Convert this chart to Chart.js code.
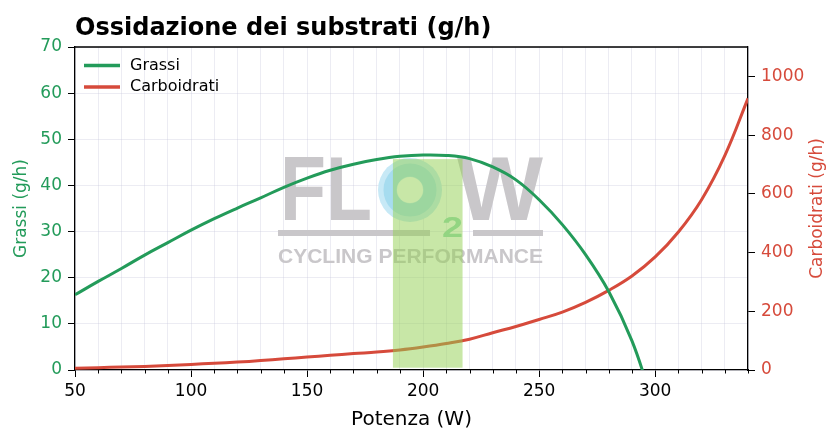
<!DOCTYPE html>
<html>
<head>
<meta charset="utf-8">
<script src="https://cdn.jsdelivr.net/npm/chart.js@4.4.1/dist/chart.umd.min.js"></script>
<style>
  html, body { margin: 0; padding: 0; background: #fff; }
  #wrap { width: 836px; height: 440px; }
</style>
</head>
<body>
<div id="wrap"><canvas id="fuelChart" width="836" height="440"></canvas></div>
<script>
// data
const potenzaGrassi = [50, 60, 70, 80, 90, 100, 110, 120, 130, 140, 150, 160, 170, 180, 190, 200, 210, 220, 230, 240, 250, 260, 270, 280, 290, 298];
const grassi = [16.3, 19.2, 22.0, 24.9, 27.6, 30.3, 32.8, 35.1, 37.3, 39.6, 41.6, 43.3, 44.6, 45.6, 46.3, 46.6, 46.5, 45.8, 44.0, 41.2, 36.9, 31.5, 25.0, 17.0, 6.3, -5.5];

const potenzaCarbo = [50, 60, 70, 80, 90, 100, 110, 120, 130, 140, 150, 160, 170, 180, 190, 200, 210, 220, 230, 240, 250, 260, 270, 280, 290, 300, 310, 320, 330, 340];
const carboidrati = [6, 8, 10, 12, 15, 19, 23, 27, 32, 38, 44, 50, 56, 61, 68, 78, 90, 105, 127, 148, 172, 197, 230, 271, 320, 385, 470, 580, 730, 925];

const fatMaxZone = [187, 217];      // shaded band (W)
const fatMaxZoneY = [0.5, 45.7];    // band height on left axis

const GREEN = '#239b5a';
const RED = '#d64a3b';
const FONT = "'DejaVu Sans', sans-serif";

const ctx = document.getElementById('fuelChart').getContext('2d');

// small ticks for minor steps (chart.js draws only one tick length)
function drawMinorTicks(chart) {
  const c = chart.ctx;
  const x = chart.scales.x, yl = chart.scales.yGrassi;
  c.save();
  c.strokeStyle = '#000';
  c.lineWidth = 1;
  x.ticks.forEach(t => {
    if (t.value % 50 === 0) return;
    const px = Math.round(x.getPixelForValue(t.value)) + 0.5;
    c.beginPath(); c.moveTo(px, x.top); c.lineTo(px, x.top + 3.5); c.stroke();
  });
  yl.ticks.forEach(t => {
    if (t.value % 10 === 0) return;
    const py = Math.round(yl.getPixelForValue(t.value)) + 0.5;
    c.beginPath(); c.moveTo(yl.right, py); c.lineTo(yl.right - 3.5, py); c.stroke();
  });
  c.restore();
}

function fitText(c, text, x, y, w, size, weight) {
  c.font = weight + ' ' + size + "px 'Liberation Sans', sans-serif";
  const m = c.measureText(text).width;
  c.save();
  c.translate(x, y);
  c.scale(w / m, 1);
  c.fillText(text, 0, 0);
  c.restore();
}

const watermark = {
  id: 'watermark',
  beforeDatasetsDraw(chart) {
    const c = chart.ctx;
    c.save();
    c.fillStyle = '#c9c7ca';
    c.textBaseline = 'alphabetic';
    fitText(c, 'FL', 280, 220, 92, 91, 'bold');
    fitText(c, 'W', 457, 220, 86, 91, 'bold');
    // O ring
    c.fillStyle = '#c7e9f6';
    c.beginPath(); c.arc(410, 190, 32, 0, Math.PI * 2); c.fill();
    c.strokeStyle = '#a6dcef';
    c.lineWidth = 13;
    c.beginPath(); c.arc(410, 190, 20, 0, Math.PI * 2); c.stroke();
    c.fillStyle = '#fff';
    c.beginPath(); c.arc(410, 190, 13, 0, Math.PI * 2); c.fill();
    c.fillStyle = '#95dab5';
    fitText(c, '2', 442, 237, 21, 30, 'bold');
    // bars
    c.fillStyle = '#c9c7ca';
    c.fillRect(278, 230, 152, 6);
    c.fillRect(473, 230, 70, 6);
    fitText(c, 'CYCLING PERFORMANCE', 278, 263, 265, 21, 'bold');
    c.restore();
  },
  afterDatasetDraw(chart, args) {
    // band goes over the red curve, under the green one
    if (args.index !== 1) return;
    const c = chart.ctx, x = chart.scales.x, y = chart.scales.yGrassi;
    const x0 = x.getPixelForValue(fatMaxZone[0]), x1 = x.getPixelForValue(fatMaxZone[1]);
    const y0 = y.getPixelForValue(fatMaxZoneY[1]), y1 = y.getPixelForValue(fatMaxZoneY[0]);
    c.save();
    c.fillStyle = 'rgba(146, 208, 80, 0.5)';
    c.fillRect(x0, y0, x1 - x0, y1 - y0);
    c.restore();
  },
  afterDraw(chart) {
    const c = chart.ctx, a = chart.chartArea;
    drawMinorTicks(chart);
    c.save();
    // top spine
    c.strokeStyle = '#000';
    c.lineWidth = 1.3;
    c.beginPath(); c.moveTo(a.left, a.top); c.lineTo(a.right, a.top); c.stroke();
    // title
    c.fillStyle = '#000';
    c.font = "bold 24px " + FONT;
    c.textBaseline = 'alphabetic';
    c.fillText('Ossidazione dei substrati (g/h)', 75, 35);
    // right axis title, reading bottom to top
    c.save();
    c.translate(818, (a.top + a.bottom) / 2);
    c.rotate(-Math.PI / 2);
    c.fillStyle = RED;
    c.font = "17px " + FONT;
    c.textAlign = 'center';
    c.textBaseline = 'middle';
    c.fillText('Carboidrati (g/h)', 0, 0);
    c.restore();
    // legend
    c.font = "16px " + FONT;
    c.textBaseline = 'middle';
    chart.data.datasets.forEach((ds, i) => {
      const yy = 65.5 + i * 21.5;
      c.strokeStyle = ds.borderColor;
      c.lineWidth = 3.5;
      c.beginPath(); c.moveTo(84, yy); c.lineTo(120, yy); c.stroke();
      c.fillStyle = '#000';
      c.fillText(ds.label, 130, yy);
    });
    c.restore();
  }
};

new Chart(ctx, {
  type: 'line',
  data: {
    datasets: [
      {
        label: 'Grassi',
        data: potenzaGrassi.map((p, i) => ({ x: p, y: grassi[i] })),
        yAxisID: 'yGrassi',
        borderColor: GREEN,
        borderWidth: 3,
        pointRadius: 0,
        tension: 0.4
      },
      {
        label: 'Carboidrati',
        data: potenzaCarbo.map((p, i) => ({ x: p, y: carboidrati[i] })),
        yAxisID: 'yCarbo',
        borderColor: RED,
        borderWidth: 3,
        pointRadius: 0,
        tension: 0.4
      }
    ]
  },
  options: {
    responsive: false,
    animation: false,
    layout: { padding: { top: 47, left: 0, right: 0, bottom: 0 } },
    plugins: { legend: { display: false }, tooltip: { enabled: false }, title: { display: false } },
    scales: {
      x: {
        type: 'linear',
        min: 50, max: 340,
        ticks: {
          stepSize: 10,
          autoSkip: false,
          maxRotation: 0,
          padding: 4,
          color: '#000',
          font: { family: FONT, size: 17 },
          callback: v => (v % 50 === 0 ? String(v) : '')
        },
        grid: {
          color: 'rgba(200, 200, 220, 0.35)',
          tickLength: 7,
          tickColor: c => (c.tick && c.tick.value % 50 === 0 ? '#000' : 'rgba(0,0,0,0)')
        },
        border: { color: '#000', width: 1.3 },
        title: { display: true, text: 'Potenza (W)', color: '#000', font: { family: FONT, size: 20 }, padding: { top: 2, bottom: 8 } },
        afterFit: s => { s.height = 70; }
      },
      yGrassi: {
        position: 'left',
        min: 0, max: 70,
        ticks: {
          stepSize: 5,
          padding: 6,
          color: GREEN,
          font: { family: FONT, size: 17 },
          callback: v => (v % 10 === 0 ? String(v) : '')
        },
        grid: {
          color: 'rgba(200, 200, 220, 0.35)',
          tickLength: 7,
          tickColor: c => (c.tick && c.tick.value % 10 === 0 ? '#000' : 'rgba(0,0,0,0)')
        },
        border: { color: '#000', width: 1.3 },
        title: { display: true, text: 'Grassi (g/h)', color: GREEN, font: { family: FONT, size: 17 }, padding: { top: 11, bottom: 0 } },
        afterFit: s => { s.width = 75; }
      },
      yCarbo: {
        position: 'right',
        min: 0, max: 1100,
        ticks: {
          stepSize: 200,
          padding: 6,
          color: RED,
          font: { family: FONT, size: 17 },
          callback: v => String(v)
        },
        afterBuildTicks: s => { s.ticks = s.ticks.filter(t => t.value <= 1000); },
        grid: { drawOnChartArea: false, tickLength: 7, tickColor: '#000' },
        border: { color: '#000', width: 1.3 },
        title: { display: false },
        afterFit: s => { s.width = 88; }
      }
    }
  },
  plugins: [watermark]
});
</script>
</body>
</html>
